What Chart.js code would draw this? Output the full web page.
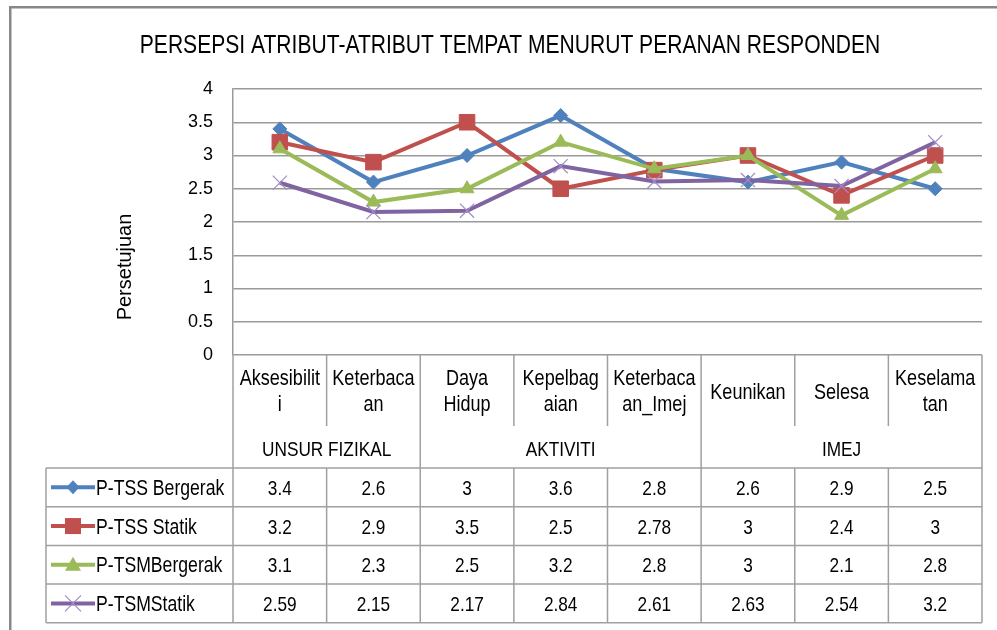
<!DOCTYPE html>
<html>
<head>
<meta charset="utf-8">
<script src="https://cdn.jsdelivr.net/npm/chart.js@4.4.0/dist/chart.umd.min.js"></script>
<style>
  html, body { margin: 0; padding: 0; background: #fff; }
  canvas { display: block; }
</style>
</head>
<body>
<canvas id="chart" width="997" height="630"></canvas>
<script>
// chart data
const categories = ['Aksesibiliti', 'Keterbacaan', 'Daya Hidup', 'Kepelbagaian', 'Keterbacaan_Imej', 'Keunikan', 'Selesa', 'Keselamatan'];
const categoryLines = [['Aksesibilit', 'i'], ['Keterbaca', 'an'], ['Daya', 'Hidup'], ['Kepelbag', 'aian'], ['Keterbaca', 'an_Imej'], ['Keunikan'], ['Selesa'], ['Keselama', 'tan']];
const groupNames = ['UNSUR FIZIKAL', 'AKTIVITI', 'IMEJ'];
const groupSpans = [2, 3, 3];
const seriesNames = ['P-TSS Bergerak', 'P-TSS Statik', 'P-TSMBergerak', 'P-TSMStatik'];
const tssBergerak = [3.4, 2.6, 3, 3.6, 2.8, 2.6, 2.9, 2.5];
const tssStatik = [3.2, 2.9, 3.5, 2.5, 2.78, 3, 2.4, 3];
const tsmBergerak = [3.1, 2.3, 2.5, 3.2, 2.8, 3, 2.1, 2.8];
const tsmStatik = [2.59, 2.15, 2.17, 2.84, 2.61, 2.63, 2.54, 3.2];
const yMin = 0, yMax = 4, yStep = 0.5;

const FONT = "'Liberation Sans', Arial, sans-serif";
const SQUEEZE = 0.82; // the original text is narrow (Arial squeezed)
const GRID = '#9a9a9a';
const TABLE = '#a0a0a0';

const colors = ['#4F81BD', '#C0504D', '#9BBB59', '#8064A2'];
const styles = ['rectRot', 'rect', 'triangle', 'crossRot'];
const series = [tssBergerak, tssStatik, tsmBergerak, tsmStatik];

// draws text squeezed horizontally
function narrowText(ctx, text, x, y, size, align) {
  ctx.save();
  ctx.translate(x, y);
  ctx.scale(SQUEEZE, 1);
  ctx.font = size + 'px ' + FONT;
  ctx.textAlign = align || 'center';
  ctx.textBaseline = 'alphabetic';
  ctx.fillStyle = '#000';
  ctx.fillText(text, 0, 0);
  ctx.restore();
}

function drawMarker(ctx, style, x, y, color) {
  ctx.save();
  ctx.fillStyle = color;
  ctx.strokeStyle = color;
  ctx.beginPath();
  if (style === 'rectRot') {
    ctx.moveTo(x, y - 7); ctx.lineTo(x + 6.5, y); ctx.lineTo(x, y + 7); ctx.lineTo(x - 6.5, y);
    ctx.closePath(); ctx.fill();
  } else if (style === 'rect') {
    ctx.rect(x - 8, y - 8, 16, 16); ctx.fill();
  } else if (style === 'triangle') {
    ctx.moveTo(x, y - 8); ctx.lineTo(x + 8, y + 6); ctx.lineTo(x - 8, y + 6);
    ctx.closePath(); ctx.fill();
  } else {
    ctx.strokeStyle = '#a08cc6';
    ctx.lineWidth = 1.2;
    ctx.moveTo(x - 8, y - 8); ctx.lineTo(x + 8, y + 8);
    ctx.moveTo(x + 8, y - 8); ctx.lineTo(x - 8, y + 8);
    ctx.stroke();
  }
  ctx.restore();
}

const tablePlugin = {
  id: 'excelTable',
  beforeDraw(chart) {
    const ctx = chart.ctx;
    ctx.save();
    ctx.fillStyle = '#fff';
    ctx.fillRect(0, 0, chart.width, chart.height);
    // outer frame
    ctx.fillStyle = '#888';
    ctx.fillRect(9, 6, chart.width - 9, 2.5);
    ctx.fillRect(9, 6, 2.5, chart.height - 6);
    ctx.restore();
  },
  afterDraw(chart) {
    const ctx = chart.ctx;
    const area = chart.chartArea;
    const colW = (area.right - area.left) / categories.length;
    const catTop = area.bottom, catSplit = 426, tableTop = 468, rowH = 38.7;
    const tableBottom = tableTop + rowH * series.length;
    const tableLeft = 46;
    ctx.save();

    // title
    narrowText(ctx, 'PERSEPSI ATRIBUT-ATRIBUT TEMPAT MENURUT PERANAN RESPONDEN', 510, 53, 25.7);

    // y axis title
    ctx.save();
    ctx.translate(125, 267);
    ctx.rotate(-Math.PI / 2);
    ctx.font = '20px ' + FONT;
    ctx.textAlign = 'center';
    ctx.textBaseline = 'middle';
    ctx.fillStyle = '#000';
    ctx.fillText('Persetujuan', 0, 0);
    ctx.restore();

    // grid lines of the category area and table
    ctx.strokeStyle = TABLE;
    ctx.lineWidth = 1.5;
    ctx.beginPath();
    const groupEdges = [0];
    groupSpans.reduce((a, s) => { groupEdges.push(a + s); return a + s; }, 0);
    for (let i = 0; i <= categories.length; i++) {
      const x = area.left + i * colW;
      if (groupEdges.includes(i)) {
        ctx.moveTo(x, catTop); ctx.lineTo(x, tableBottom);
      } else {
        ctx.moveTo(x, catTop); ctx.lineTo(x, catSplit);
        ctx.moveTo(x, tableTop); ctx.lineTo(x, tableBottom);
      }
    }
    for (let r = 0; r <= series.length; r++) {
      const y = tableTop + r * rowH;
      ctx.moveTo(tableLeft, y); ctx.lineTo(area.right, y);
    }
    ctx.moveTo(tableLeft, tableTop); ctx.lineTo(tableLeft, tableBottom);
    ctx.stroke();

    // category labels
    categoryLines.forEach((lines, i) => {
      const x = area.left + (i + 0.5) * colW;
      if (lines.length === 1) {
        narrowText(ctx, lines[0], x, 399, 22);
      } else {
        narrowText(ctx, lines[0], x, 385, 22);
        narrowText(ctx, lines[1], x, 411, 22);
      }
    });

    // group labels
    let start = 0;
    groupNames.forEach((g, i) => {
      const x = area.left + (start + groupSpans[i] / 2) * colW;
      narrowText(ctx, g, x, 456, 21);
      start += groupSpans[i];
    });

    // table rows
    series.forEach((vals, r) => {
      const yMid = tableTop + r * rowH + rowH / 2;
      ctx.strokeStyle = colors[r];
      ctx.lineWidth = 4;
      ctx.beginPath();
      ctx.moveTo(51, yMid); ctx.lineTo(95, yMid);
      ctx.stroke();
      drawMarker(ctx, styles[r], 73, yMid, colors[r]);
      narrowText(ctx, seriesNames[r], 96, yMid + 7.5, 21.5, 'left');
      vals.forEach((v, i) => {
        narrowText(ctx, String(v), area.left + (i + 0.5) * colW, yMid + 7.5, 21);
      });
    });
    ctx.restore();
  }
};

function makeDataset(i) {
  const isCross = styles[i] === 'crossRot';
  return {
    label: seriesNames[i],
    data: series[i],
    borderColor: colors[i],
    backgroundColor: colors[i],
    borderWidth: 4,
    pointStyle: styles[i],
    pointRadius: [7, 11, 8, 10][i],
    pointBackgroundColor: colors[i],
    pointBorderColor: isCross ? '#a08cc6' : colors[i],
    pointBorderWidth: isCross ? 1.2 : 1,
    tension: 0,
    order: 3 - i
  };
}

new Chart(document.getElementById('chart').getContext('2d'), {
  type: 'line',
  data: {
    labels: categories,
    datasets: [0, 1, 2, 3].map(makeDataset)
  },
  options: {
    responsive: false,
    animation: false,
    layout: { padding: { left: 100, top: 89, right: 15, bottom: 275 } },
    plugins: {
      legend: { display: false },
      tooltip: { enabled: false }
    },
    scales: {
      x: {
        type: 'category',
        display: false,
        offset: true
      },
      y: {
        min: yMin,
        max: yMax,
        afterFit: s => { s.width = 133; },
        ticks: {
          stepSize: yStep,
          padding: 20,
          color: '#000',
          font: { family: FONT, size: 18 },
          callback: v => String(v)
        },
        grid: { color: GRID, lineWidth: 1.5, drawTicks: false },
        border: { display: true, color: GRID, width: 1.5 }
      }
    }
  },
  plugins: [tablePlugin]
});
</script>
</body>
</html>
